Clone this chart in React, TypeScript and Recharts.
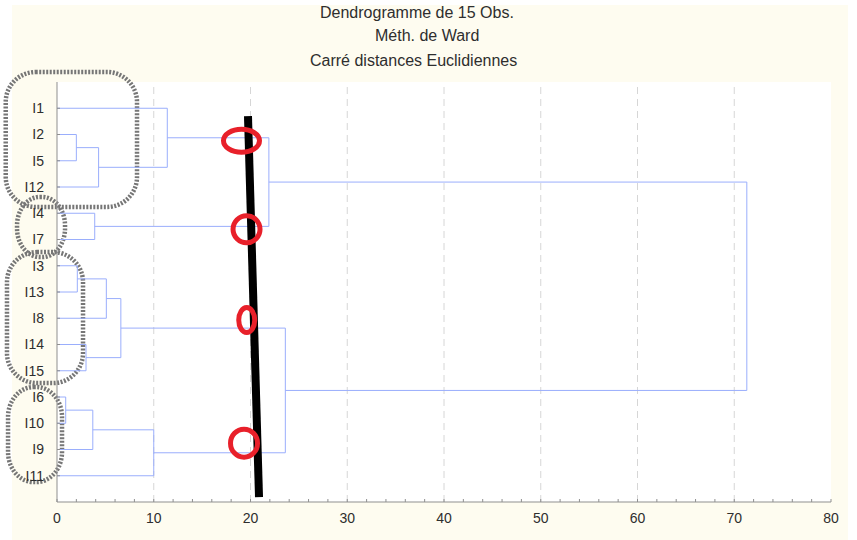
import React from 'react';
import {
  ComposedChart,
  Line,
  XAxis,
  YAxis,
  CartesianGrid,
  ReferenceLine,
  ReferenceDot,
  ReferenceArea,
} from 'recharts';

// ---- Data ----
const leaves = ['I1', 'I2', 'I5', 'I12', 'I4', 'I7', 'I3', 'I13', 'I8', 'I14', 'I15', 'I6', 'I10', 'I9', 'I11'];

const mergeIds = ['C1', 'C2', 'C3', 'C4', 'C5', 'C6', 'C7', 'C8', 'C9', 'C10', 'C11', 'C12', 'C13', 'C14'];
const mergeLeft = ['I6', 'I2', 'I3', 'I14', 'C1', 'I4', 'C2', 'C3', 'C8', 'C5', 'I1', 'C11', 'C9', 'C12'];
const mergeRight = ['I10', 'I5', 'I13', 'I15', 'I9', 'I7', 'I12', 'I8', 'C4', 'I11', 'C7', 'C6', 'C10', 'C13'];
const mergeHeights = [0.9, 2.0, 2.1, 3.0, 3.7, 3.9, 4.3, 5.1, 6.6, 10.0, 11.4, 21.9, 23.6, 71.3];

const xTicks = [0, 10, 20, 30, 40, 50, 60, 70, 80];
const xMinorTicks = [0, 2, 4, 6, 8, 10, 12, 14, 16, 18, 20, 22, 24, 26, 28, 30, 32, 34, 36, 38, 40, 42, 44, 46, 48, 50, 52, 54, 56, 58, 60, 62, 64, 66, 68, 70, 72, 74, 76, 78, 80];
const gridTicks = [10, 20, 30, 40, 50, 60, 70];
const titleLines = ['Dendrogramme de 15 Obs.', 'Méth. de Ward', 'Carré distances Euclidiennes'];

// hand-drawn annotations (data coordinates)
const redMarkX = [19.07, 19.59, 19.61, 19.33];
const redMarkY = [2.24, 5.61, 9.07, 13.76];
const redMarkRx = [18, 13.5, 8, 13.5];
const redMarkRy = [11.5, 13.5, 12.5, 14];

const blackStrokeX = [19.74, 20.88];
const blackStrokeY = [1.3, 15.81];

const groupX1 = [-5.3, -4.13, -5.17, -5.06];
const groupX2 = [8.27, 0.83, 2.69, 0.52];
const groupY1 = [-0.38, 4.38, 6.48, 11.62];
const groupY2 = [4.76, 6.67, 11.47, 15.24];

// ---- Build dendrogram links from data ----
type Pt = { x: number; y: number };
const nodes: Record<string, Pt> = {};
leaves.forEach((name, i) => {
  nodes[name] = { x: 0, y: i + 1 };
});
const links: Pt[][] = mergeIds.map((id, k) => {
  const a = nodes[mergeLeft[k]];
  const b = nodes[mergeRight[k]];
  const h = mergeHeights[k];
  nodes[id] = { x: h, y: (a.y + b.y) / 2 };
  return [
    { x: a.x, y: a.y },
    { x: h, y: a.y },
    { x: h, y: b.y },
    { x: b.x, y: b.y },
  ];
});

const leafTicks = leaves.map((_, i) => i + 1);

const FONT = '"Liberation Sans", Arial, sans-serif';
const FRAME = '#8f8f8f';
const LINK = '#9aaefc';

export default function App() {
  return (
    <div style={{ position: 'absolute', left: 0, top: 0, width: 857, height: 540, background: '#ffffff', overflow: 'hidden' }}>
      <div style={{ position: 'absolute', left: 12, top: 5, width: 836, height: 535, background: '#fefcf0' }} />
      {titleLines.map((t, i) => (
        <div
          key={t}
          style={{
            position: 'absolute',
            left: [320, 375, 310][i],
            top: [4, 27, 52][i],
            fontFamily: FONT,
            fontSize: 16,
            lineHeight: '18px',
            color: '#2e2e2e',
            whiteSpace: 'nowrap',
          }}
        >
          {t}
        </div>
      ))}
      <div style={{ position: 'absolute', left: 0, top: 0 }}>
        <ComposedChart width={857} height={540} margin={{ top: 82, right: 26, bottom: 0, left: 0 }}>
          <CartesianGrid horizontal={false} vertical={false} fill="#ffffff" />
          {gridTicks.map((v) => (
            <ReferenceLine key={'g' + v} x={v} stroke="#d6d6d6" strokeDasharray="7 5" strokeWidth={1} />
          ))}
          <XAxis
            dataKey="x"
            type="number"
            domain={[0, 80]}
            allowDataOverflow
            ticks={xMinorTicks}
            interval={0}
            tickFormatter={(v: number) => (xTicks.includes(v) ? String(v) : '')}
            tickSize={-3}
            tickMargin={14}
            height={38}
            stroke={FRAME}
            tick={{ fill: '#2e2e2e', fontSize: 14, fontFamily: FONT }}
          />
          <XAxis
            xAxisId="top"
            orientation="top"
            type="number"
            domain={[0, 80]}
            allowDataOverflow
            ticks={xMinorTicks}
            interval={0}
            tick={false}
            tickSize={-3}
            height={0}
            stroke={FRAME}
          />
          <YAxis
            type="number"
            domain={[0, 16]}
            allowDataOverflow
            reversed
            ticks={leafTicks}
            interval={0}
            tickFormatter={(v: number) => leaves[v - 1] ?? ''}
            width={57}
            tickSize={-3}
            tickMargin={16}
            stroke={FRAME}
            tick={{ fill: '#2e2e2e', fontSize: 14, fontFamily: FONT }}
          />
          <YAxis
            yAxisId="right"
            orientation="right"
            type="number"
            domain={[0, 16]}
            allowDataOverflow
            reversed
            ticks={leafTicks}
            interval={0}
            tick={false}
            tickSize={-3}
            width={0}
            stroke={FRAME}
          />
          {links.map((pts, k) => (
            <Line
              key={mergeIds[k]}
              data={pts}
              dataKey="y"
              type="linear"
              stroke={LINK}
              strokeWidth={1}
              dot={false}
              activeDot={false}
              isAnimationActive={false}
            />
          ))}
          <ReferenceLine
            segment={[
              { x: blackStrokeX[0], y: blackStrokeY[0] },
              { x: blackStrokeX[1], y: blackStrokeY[1] },
            ]}
            stroke="#000"
            strokeWidth={8}
            ifOverflow="visible"
          />
          {redMarkX.map((x, i) => (
            <ReferenceDot
              key={'r' + i}
              x={x}
              y={redMarkY[i]}
              r={10}
              ifOverflow="visible"
              shape={(p: any) => (
                <ellipse cx={p.cx} cy={p.cy} rx={redMarkRx[i]} ry={redMarkRy[i]} fill="none" stroke="#e8202a" strokeWidth={5} />
              )}
            />
          ))}
          {groupX1.map((x1, i) => (
            <ReferenceArea
              key={'b' + i}
              x1={x1}
              x2={groupX2[i]}
              y1={groupY1[i]}
              y2={groupY2[i]}
              ifOverflow="visible"
              shape={(p: any) => (
                <rect
                  x={p.x}
                  y={p.y}
                  width={p.width}
                  height={p.height}
                  rx={Math.min(30, p.width / 2.1)}
                  ry={Math.min(30, p.height / 2.1)}
                  fill="none"
                  stroke="#767676"
                  strokeWidth={4.5}
                  strokeDasharray="2 1.5"
                />
              )}
            />
          ))}
        </ComposedChart>
      </div>
    </div>
  );
}
